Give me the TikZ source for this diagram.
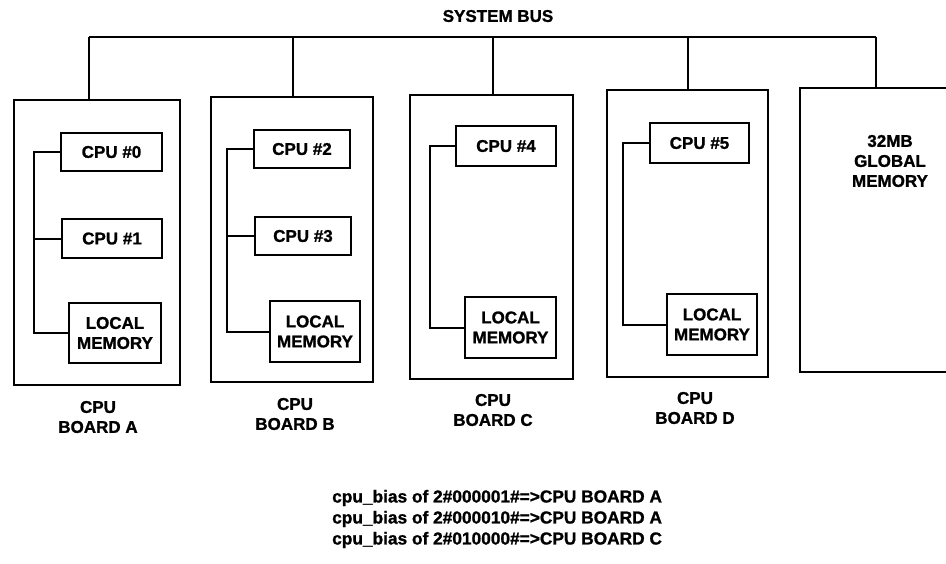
\documentclass[tikz,border=0pt]{standalone}
\usepackage{fontspec}
\setmainfont{Liberation Sans}[BoldFeatures={FakeBold=1.2}]
\tikzset{
  every picture/.style={x=1pt,y=-1pt},
  lw/.style={line width=2pt},
  board/.style={draw,lw,inner sep=0pt},
  unit/.style={draw,lw,inner sep=0pt,align=center,font=\fontsize{17}{20}\selectfont\bfseries},
  lbl/.style={align=center,inner sep=0pt,font=\fontsize{17}{20}\selectfont\bfseries},
  wire/.style={lw}
}
\begin{document}
\begin{tikzpicture}
\clip (0,0) rectangle (946,563);
\useasboundingbox (0,0) rectangle (946,563);
% title
\node[lbl] (title) at (498,16) {SYSTEM BUS};
% boards
\node[board,minimum width=166pt,minimum height=285pt] (bA) at (97,242.5) {};
\node[board,minimum width=162pt,minimum height=285pt] (bB) at (292,239.5) {};
\node[board,minimum width=163pt,minimum height=284pt] (bC) at (491.5,237) {};
\node[board,minimum width=161pt,minimum height=287pt] (bD) at (687.5,233.5) {};
\node[board,minimum width=152pt,minimum height=284pt] (gm) at (876,230) {};
\node[lbl] (gmt) at (890,161) {32MB\\GLOBAL\\MEMORY};
% bus
\coordinate (busA) at (89,37);
\coordinate (busB) at (293,37);
\coordinate (busC) at (493,37);
\coordinate (busD) at (688,37);
\coordinate (busG) at (876,37);
\draw[wire] (busA) -- (busG);
\draw[wire] (busA) -- (busA |- bA.north);
\draw[wire] (busB) -- (busB |- bB.north);
\draw[wire] (busC) -- (busC |- bC.north);
\draw[wire] (busD) -- (busD |- bD.north);
\draw[wire] (busG) -- (busG |- gm.north);
% board A
\node[unit,minimum width=101pt,minimum height=38pt] (c0) at (111.5,152) {CPU \#0};
\node[unit,minimum width=100pt,minimum height=39pt] (c1) at (112,238.5) {CPU \#1};
\node[unit,minimum width=92pt,minimum height=60pt] (mA) at (115,333) {LOCAL\\MEMORY};
\coordinate (wA) at (34,0);
\draw[wire] (c0.west) -| (wA |- mA.west) -- (mA.west);
\draw[wire] (c1.west) -- (wA |- c1.west);
% board B
\node[unit,minimum width=96pt,minimum height=38pt] (c2) at (302,149) {CPU \#2};
\node[unit,minimum width=96pt,minimum height=38pt] (c3) at (303,236) {CPU \#3};
\node[unit,minimum width=90pt,minimum height=61pt] (mB) at (315,331.5) {LOCAL\\MEMORY};
\coordinate (wB) at (227,0);
\draw[wire] (c2.west) -| (wB |- mB.west) -- (mB.west);
\draw[wire] (c3.west) -- (wB |- c3.west);
% board C
\node[unit,minimum width=100pt,minimum height=40pt] (c4) at (506,146) {CPU \#4};
\node[unit,minimum width=91pt,minimum height=61pt] (mC) at (510.5,327.5) {LOCAL\\MEMORY};
\coordinate (wC) at (430,0);
\draw[wire] (c4.west) -| (wC |- mC.west) -- (mC.west);
% board D
\node[unit,minimum width=99pt,minimum height=40pt] (c5) at (699.5,143) {CPU \#5};
\node[unit,minimum width=90pt,minimum height=61pt] (mD) at (712,324.5) {LOCAL\\MEMORY};
\coordinate (wD) at (623,0);
\draw[wire] (c5.west) -| (wD |- mD.west) -- (mD.west);
% board labels
\node[lbl] (lA) at (98,417) {CPU\\BOARD A};
\node[lbl] (lB) at (295,414) {CPU\\BOARD B};
\node[lbl] (lC) at (493,410) {CPU\\BOARD C};
\node[lbl] (lD) at (695,408) {CPU\\BOARD D};
% notes
\node[lbl,align=left,anchor=west,font=\fontsize{17.3}{21}\selectfont\bfseries] (notes) at (332,519)
 {cpu\_bias of 2\#000001\#=>CPU BOARD A\\cpu\_bias of 2\#000010\#=>CPU BOARD A\\cpu\_bias of 2\#010000\#=>CPU BOARD C};
\end{tikzpicture}
\end{document}
